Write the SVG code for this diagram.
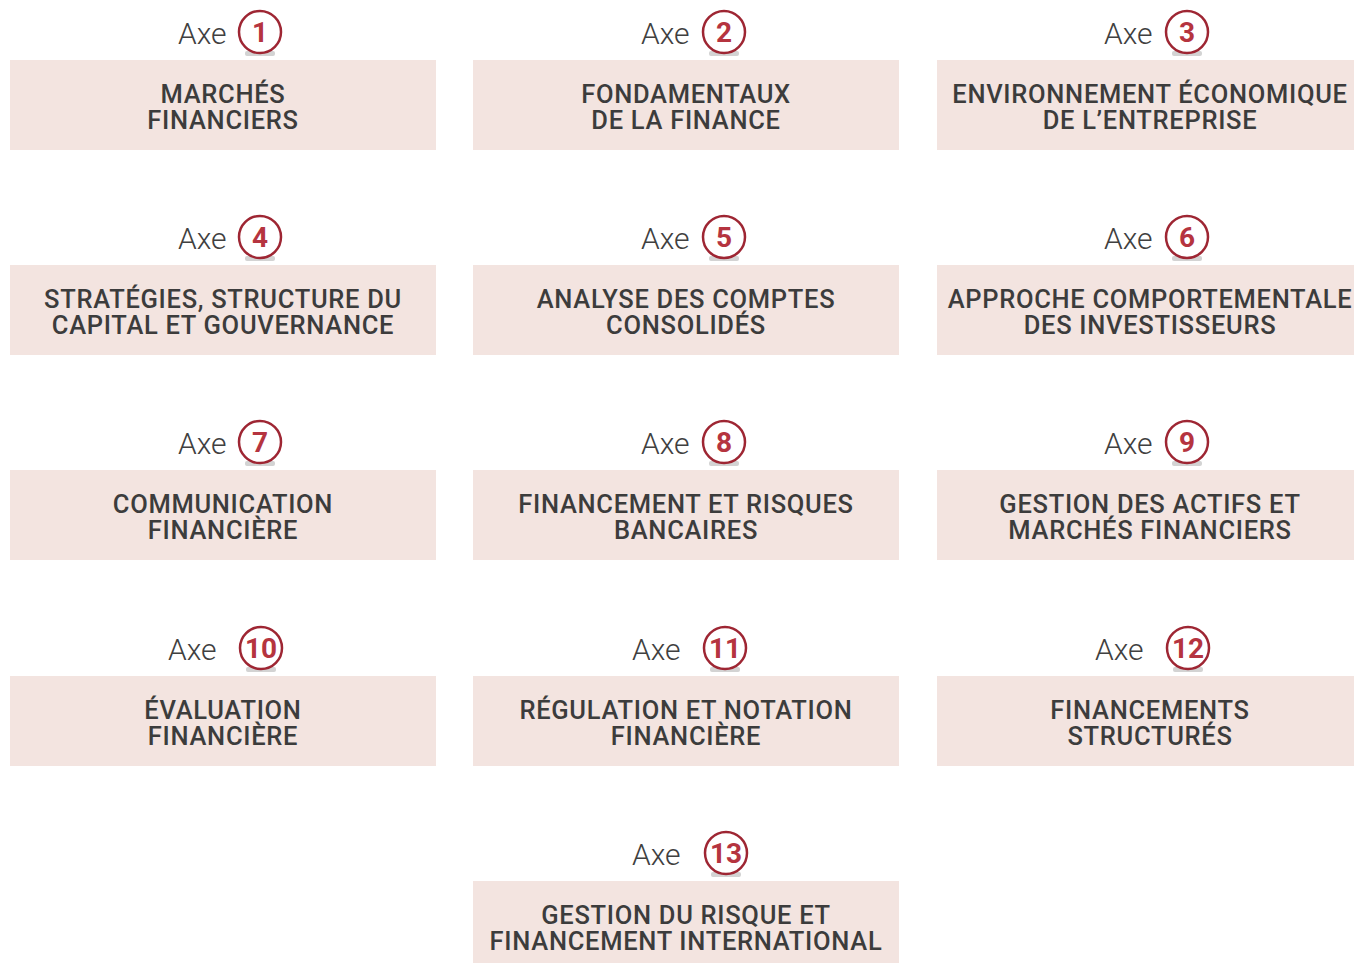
<svg xmlns="http://www.w3.org/2000/svg" width="1354" height="963" viewBox="0 0 1354 963">
<style>
.box{fill:#f3e4e0}
.t{font-family:Roboto,"Liberation Sans",sans-serif;font-size:25.5px;font-weight:500;fill:#3c3c3c;text-anchor:middle;letter-spacing:0.7px}
.axe{font-family:Roboto,"Liberation Sans",sans-serif;font-size:30px;font-weight:300;fill:#404040}
.c{fill:#fff;stroke:#9e2633;stroke-width:2.5}
.n{font-family:Roboto,"Liberation Sans",sans-serif;font-size:28px;font-weight:700;fill:#b5343f;text-anchor:middle}
.sh{fill:#d3d3d3}
</style>
<rect width="1354" height="963" fill="#fff"/>
<defs>
<g id="badge"><rect class="sh" x="-15" y="19" width="30" height="5" rx="2"/><circle class="c" r="21"/></g>
</defs>
<g id="axe1"><text class="axe" x="178" y="44">Axe</text><use href="#badge" x="260" y="32"/><text class="n" x="260" y="42">1</text>
<rect class="box" x="10" y="60" width="426" height="90"/><text class="t" x="223" y="103">MARCHÉS</text><text class="t" x="223" y="129">FINANCIERS</text></g>
<g id="axe2"><text class="axe" x="641" y="44">Axe</text><use href="#badge" x="724" y="32"/><text class="n" x="724" y="42">2</text>
<rect class="box" x="473" y="60" width="426" height="90"/><text class="t" x="686" y="103">FONDAMENTAUX</text><text class="t" x="686" y="129">DE LA FINANCE</text></g>
<g id="axe3"><text class="axe" x="1104" y="44">Axe</text><use href="#badge" x="1187" y="32"/><text class="n" x="1187" y="42">3</text>
<rect class="box" x="937" y="60" width="426" height="90"/><text class="t" x="1150" y="103">ENVIRONNEMENT ÉCONOMIQUE</text><text class="t" x="1150" y="129">DE L’ENTREPRISE</text></g>

<g id="axe4"><text class="axe" x="178" y="249">Axe</text><use href="#badge" x="260" y="237"/><text class="n" x="260" y="247">4</text>
<rect class="box" x="10" y="265" width="426" height="90"/><text class="t" x="223" y="308">STRATÉGIES, STRUCTURE DU</text><text class="t" x="223" y="334">CAPITAL ET GOUVERNANCE</text></g>
<g id="axe5"><text class="axe" x="641" y="249">Axe</text><use href="#badge" x="724" y="237"/><text class="n" x="724" y="247">5</text>
<rect class="box" x="473" y="265" width="426" height="90"/><text class="t" x="686" y="308">ANALYSE DES COMPTES</text><text class="t" x="686" y="334">CONSOLIDÉS</text></g>
<g id="axe6"><text class="axe" x="1104" y="249">Axe</text><use href="#badge" x="1187" y="237"/><text class="n" x="1187" y="247">6</text>
<rect class="box" x="937" y="265" width="426" height="90"/><text class="t" x="1150" y="308">APPROCHE COMPORTEMENTALE</text><text class="t" x="1150" y="334">DES INVESTISSEURS</text></g>

<g id="axe7"><text class="axe" x="178" y="454">Axe</text><use href="#badge" x="260" y="442"/><text class="n" x="260" y="452">7</text>
<rect class="box" x="10" y="470" width="426" height="90"/><text class="t" x="223" y="513">COMMUNICATION</text><text class="t" x="223" y="539">FINANCIÈRE</text></g>
<g id="axe8"><text class="axe" x="641" y="454">Axe</text><use href="#badge" x="724" y="442"/><text class="n" x="724" y="452">8</text>
<rect class="box" x="473" y="470" width="426" height="90"/><text class="t" x="686" y="513">FINANCEMENT ET RISQUES</text><text class="t" x="686" y="539">BANCAIRES</text></g>
<g id="axe9"><text class="axe" x="1104" y="454">Axe</text><use href="#badge" x="1187" y="442"/><text class="n" x="1187" y="452">9</text>
<rect class="box" x="937" y="470" width="426" height="90"/><text class="t" x="1150" y="513">GESTION DES ACTIFS ET</text><text class="t" x="1150" y="539">MARCHÉS FINANCIERS</text></g>

<g id="axe10"><text class="axe" x="168" y="660">Axe</text><use href="#badge" x="261" y="648"/><text class="n" x="261" y="658">10</text>
<rect class="box" x="10" y="676" width="426" height="90"/><text class="t" x="223" y="719">ÉVALUATION</text><text class="t" x="223" y="745">FINANCIÈRE</text></g>
<g id="axe11"><text class="axe" x="632" y="660">Axe</text><use href="#badge" x="725" y="648"/><text class="n" x="725" y="658">11</text>
<rect class="box" x="473" y="676" width="426" height="90"/><text class="t" x="686" y="719">RÉGULATION ET NOTATION</text><text class="t" x="686" y="745">FINANCIÈRE</text></g>
<g id="axe12"><text class="axe" x="1095" y="660">Axe</text><use href="#badge" x="1188" y="648"/><text class="n" x="1188" y="658">12</text>
<rect class="box" x="937" y="676" width="426" height="90"/><text class="t" x="1150" y="719">FINANCEMENTS</text><text class="t" x="1150" y="745">STRUCTURÉS</text></g>

<g id="axe13"><text class="axe" x="632" y="865">Axe</text><use href="#badge" x="726" y="853"/><text class="n" x="726" y="863">13</text>
<rect class="box" x="473" y="881" width="426" height="90"/><text class="t" x="686" y="924">GESTION DU RISQUE ET</text><text class="t" x="686" y="950">FINANCEMENT INTERNATIONAL</text></g>
</svg>
